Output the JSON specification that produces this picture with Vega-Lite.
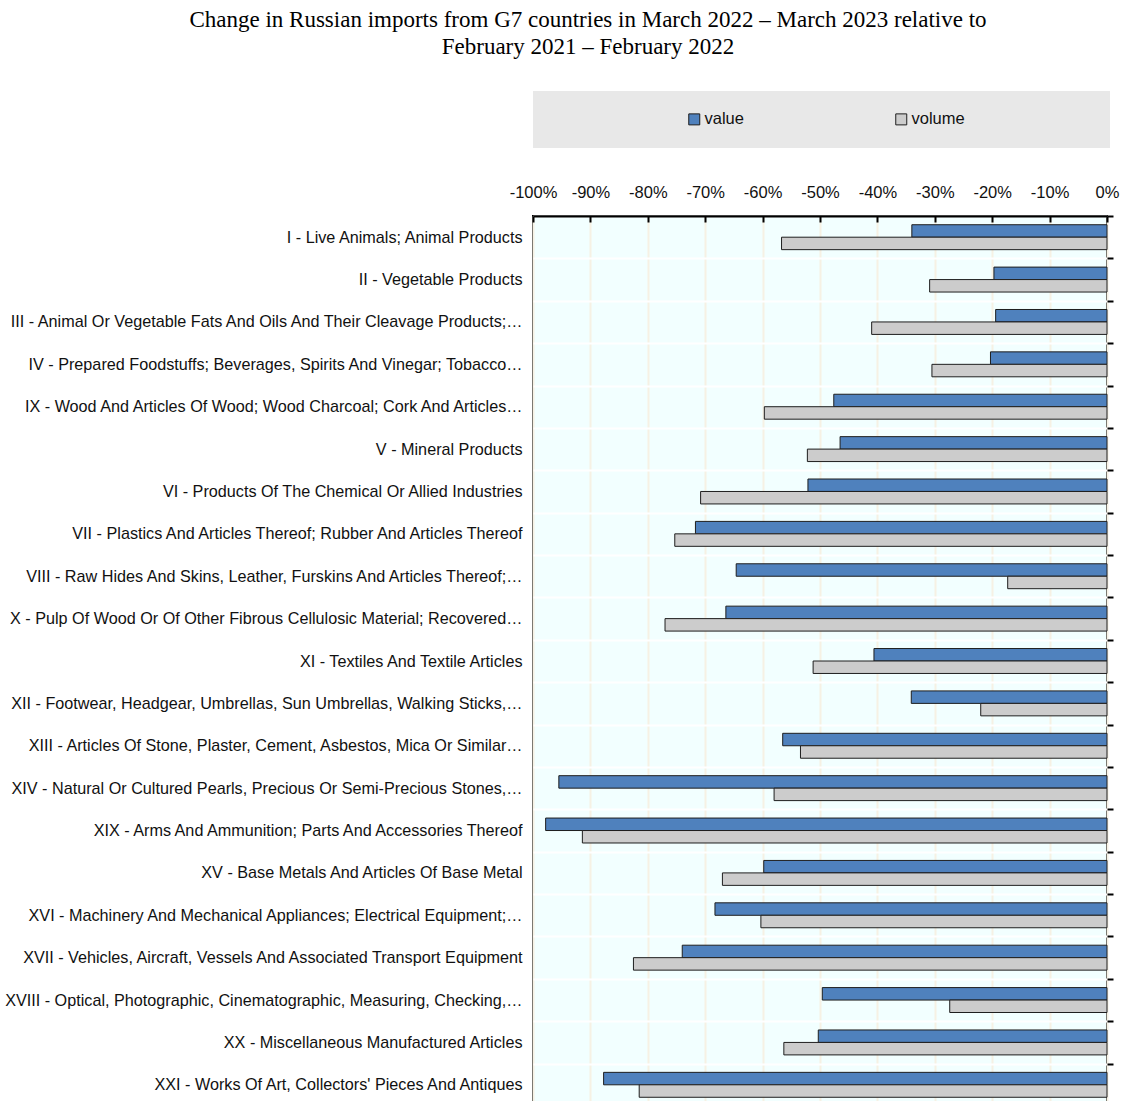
{
  "$schema": "https://vega.github.io/schema/vega-lite/v6.json",
  "autosize": {"type": "none"},
  "width": 574,
  "height": 890,
  "padding": {"left": 533, "top": 216, "right": 15, "bottom": 0},
  "background": "#ffffff",
  "title": {
    "text": ["Change in Russian imports from G7 countries in March 2022 – March 2023 relative to", "February 2021 – February 2022"],
    "font": "Liberation Serif",
    "fontSize": 23,
    "fontWeight": "normal",
    "color": "#000000",
    "anchor": "middle",
    "frame": "group",
    "dx": -232,
    "lineHeight": 27,
    "offset": 32
  },
  "data": {
    "values": [
      {"category": "I - Live Animals; Animal Products", "series": "value", "change": -34.0},
      {"category": "I - Live Animals; Animal Products", "series": "volume", "change": -56.7},
      {"category": "II - Vegetable Products", "series": "value", "change": -19.7},
      {"category": "II - Vegetable Products", "series": "volume", "change": -30.9},
      {"category": "III - Animal Or Vegetable Fats And Oils And Their Cleavage Products;…", "series": "value", "change": -19.4},
      {"category": "III - Animal Or Vegetable Fats And Oils And Their Cleavage Products;…", "series": "volume", "change": -41.0},
      {"category": "IV - Prepared Foodstuffs; Beverages, Spirits And Vinegar; Tobacco…", "series": "value", "change": -20.3},
      {"category": "IV - Prepared Foodstuffs; Beverages, Spirits And Vinegar; Tobacco…", "series": "volume", "change": -30.5},
      {"category": "IX - Wood And Articles Of Wood; Wood Charcoal; Cork And Articles…", "series": "value", "change": -47.6},
      {"category": "IX - Wood And Articles Of Wood; Wood Charcoal; Cork And Articles…", "series": "volume", "change": -59.7},
      {"category": "V - Mineral Products", "series": "value", "change": -46.5},
      {"category": "V - Mineral Products", "series": "volume", "change": -52.2},
      {"category": "VI - Products Of The Chemical Or Allied Industries", "series": "value", "change": -52.1},
      {"category": "VI - Products Of The Chemical Or Allied Industries", "series": "volume", "change": -70.8},
      {"category": "VII - Plastics And Articles Thereof; Rubber And Articles Thereof", "series": "value", "change": -71.7},
      {"category": "VII - Plastics And Articles Thereof; Rubber And Articles Thereof", "series": "volume", "change": -75.3},
      {"category": "VIII - Raw Hides And Skins, Leather, Furskins And Articles Thereof;…", "series": "value", "change": -64.6},
      {"category": "VIII - Raw Hides And Skins, Leather, Furskins And Articles Thereof;…", "series": "volume", "change": -17.3},
      {"category": "X - Pulp Of Wood Or Of Other Fibrous Cellulosic Material; Recovered…", "series": "value", "change": -66.4},
      {"category": "X - Pulp Of Wood Or Of Other Fibrous Cellulosic Material; Recovered…", "series": "volume", "change": -77.0},
      {"category": "XI - Textiles And Textile Articles", "series": "value", "change": -40.6},
      {"category": "XI - Textiles And Textile Articles", "series": "volume", "change": -51.2},
      {"category": "XII - Footwear, Headgear, Umbrellas, Sun Umbrellas, Walking Sticks,…", "series": "value", "change": -34.1},
      {"category": "XII - Footwear, Headgear, Umbrellas, Sun Umbrellas, Walking Sticks,…", "series": "volume", "change": -22.0},
      {"category": "XIII - Articles Of Stone, Plaster, Cement, Asbestos, Mica Or Similar…", "series": "value", "change": -56.5},
      {"category": "XIII - Articles Of Stone, Plaster, Cement, Asbestos, Mica Or Similar…", "series": "volume", "change": -53.4},
      {"category": "XIV - Natural Or Cultured Pearls, Precious Or Semi-Precious Stones,…", "series": "value", "change": -95.5},
      {"category": "XIV - Natural Or Cultured Pearls, Precious Or Semi-Precious Stones,…", "series": "volume", "change": -58.0},
      {"category": "XIX - Arms And Ammunition; Parts And Accessories Thereof", "series": "value", "change": -97.8},
      {"category": "XIX - Arms And Ammunition; Parts And Accessories Thereof", "series": "volume", "change": -91.4},
      {"category": "XV - Base Metals And Articles Of Base Metal", "series": "value", "change": -59.8},
      {"category": "XV - Base Metals And Articles Of Base Metal", "series": "volume", "change": -67.0},
      {"category": "XVI - Machinery And Mechanical Appliances; Electrical Equipment;…", "series": "value", "change": -68.3},
      {"category": "XVI - Machinery And Mechanical Appliances; Electrical Equipment;…", "series": "volume", "change": -60.3},
      {"category": "XVII - Vehicles, Aircraft, Vessels And Associated Transport Equipment", "series": "value", "change": -74.0},
      {"category": "XVII - Vehicles, Aircraft, Vessels And Associated Transport Equipment", "series": "volume", "change": -82.5},
      {"category": "XVIII - Optical, Photographic, Cinematographic, Measuring, Checking,…", "series": "value", "change": -49.6},
      {"category": "XVIII - Optical, Photographic, Cinematographic, Measuring, Checking,…", "series": "volume", "change": -27.4},
      {"category": "XX - Miscellaneous Manufactured Articles", "series": "value", "change": -50.3},
      {"category": "XX - Miscellaneous Manufactured Articles", "series": "volume", "change": -56.3},
      {"category": "XXI - Works Of Art, Collectors' Pieces And Antiques", "series": "value", "change": -87.7},
      {"category": "XXI - Works Of Art, Collectors' Pieces And Antiques", "series": "volume", "change": -81.5}
    ]
  },
  "layer": [
    {
      "mark": {"type": "bar", "stroke": "#1e1e1e", "strokeWidth": 1},
      "encoding": {
        "y": {
          "field": "category", "type": "nominal", "sort": null,
          "scale": {"paddingInner": 0, "paddingOuter": 0},
          "axis": {
            "orient": "left", "title": null, "ticks": false, "domain": false,
            "labelFont": "Liberation Sans", "labelFontSize": 16.2, "labelColor": "#111111",
            "labelPadding": 11, "labelLimit": 600,
            "grid": true, "gridColor": "#ffffff", "gridWidth": 2, "tickBand": "extent"
          }
        },
        "yOffset": {"field": "series", "type": "nominal", "scale": {"paddingOuter": 0.7, "paddingInner": 0}},
        "x": {
          "field": "change", "type": "quantitative", "stack": null,
          "scale": {"domain": [-100, 0], "nice": false},
          "axis": {
            "orient": "top", "title": null, "values": [-100, -90, -80, -70, -60, -50, -40, -30, -20, -10, 0],
            "labelExpr": "(datum.value < 0 ? '-' : '') + abs(datum.value) + '%'",
            "labelFont": "Liberation Sans", "labelFontSize": 16.5, "labelColor": "#111111",
            "labelPadding": 22, "labelOverlap": false, "labelFlush": false,
            "domain": true, "domainColor": "#000000", "domainWidth": 2,
            "ticks": true, "tickSize": -6, "tickColor": "#000000", "tickWidth": 2,
            "grid": true, "gridColor": "#f6f1e4", "gridWidth": 2
          }
        },
        "color": {
          "field": "series", "type": "nominal",
          "scale": {"domain": ["value", "volume"], "range": ["#4f81bd", "#cccccc"]},
          "legend": {
            "orient": "none", "legendX": 0, "legendY": -125,
            "direction": "horizontal", "columns": 2,
            "title": " ", "titleOrient": "right", "titlePadding": 125,
            "fillColor": "#e8e8e8", "padding": 20,
            "symbolType": "square", "symbolSize": 121, "symbolStrokeColor": "#1e1e1e", "symbolStrokeWidth": 1,
            "symbolOffset": 133, "labelOffset": 2, "columnPadding": 16,
            "labelFont": "Liberation Sans", "labelFontSize": 16.5, "labelColor": "#111111"
          }
        }
      }
    },
    {
      "mark": {"type": "bar", "opacity": 0},
      "encoding": {
        "y": {
          "field": "category", "type": "nominal", "sort": null,
          "axis": {
            "orient": "right", "title": null, "labels": false, "domain": false, "grid": false,
            "ticks": true, "tickBand": "extent", "tickSize": 6, "tickColor": "#000000", "tickWidth": 2
          }
        },
        "x": {"field": "change", "type": "quantitative", "stack": null}
      }
    }
  ],
  "resolve": {"axis": {"y": "independent"}},
  "config": {
    "view": {"fill": "#f2ffff", "stroke": "#000000", "strokeWidth": 2}
  }
}
